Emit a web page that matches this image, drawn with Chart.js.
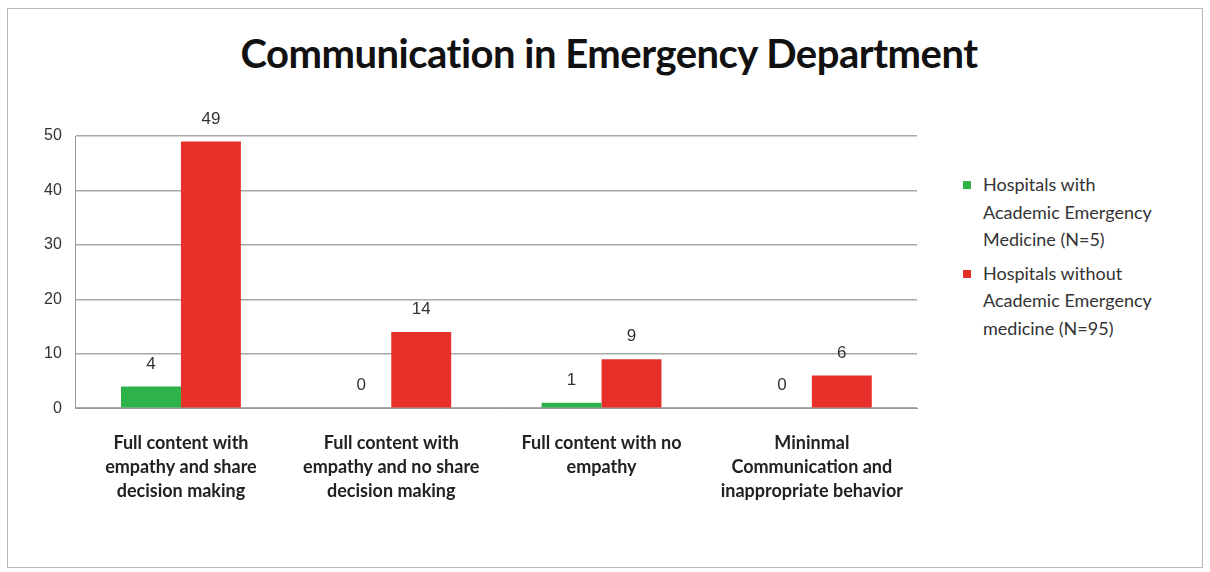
<!DOCTYPE html>
<html lang="en">
<head>
    <meta charset="UTF-8">
    <title>Communication in Emergency Department</title>
    <script src="https://cdn.jsdelivr.net/npm/chart.js@4.4.0/dist/chart.umd.js"></script>
    <style>
        body { margin: 0; background: #fff; font-family: Lato, sans-serif; }
        #frame { position: absolute; left: 7px; top: 8px; width: 1194px; height: 558px; border: 1px solid #b8b8b8; }
        #title { position: absolute; left: 0; width: 1218px; top: 29px; text-align: center; font-size: 40px; font-weight: bold; color: #111; letter-spacing: -0.5px; }
        #wrap { position: absolute; left: 20px; top: 105px; width: 910px; height: 425px; }
        #legend { position: absolute; left: 963px; top: 171px; font-size: 18px; color: #333; line-height: 27.5px; }
        .item { display: flex; margin-bottom: 6px; }
        .box { width: 8px; height: 8px; margin: 10px 12px 0 0; flex: none; }
    </style>
</head>
<body>
    <div id="frame"></div>
    <div id="title">Communication in Emergency Department</div>
    <div id="wrap"><canvas id="chart"></canvas></div>
    <div id="legend"></div>

    <script>
        // categories (multi-line labels)
        const categories = [
            ['Full content with', 'empathy and share', 'decision making'],
            ['Full content with', 'empathy and no share', 'decision making'],
            ['Full content with no', 'empathy'],
            ['Mininmal', 'Communication and', 'inappropriate behavior']
        ];
        const seriesNames = [
            ['Hospitals with', 'Academic Emergency', 'Medicine (N=5)'],
            ['Hospitals without', 'Academic Emergency', 'medicine (N=95)']
        ];
        const withAcademic = [4, 0, 1, 0];
        const withoutAcademic = [49, 14, 9, 6];
        const yTicks = [0, 10, 20, 30, 40, 50];
        const colors = ['#2db34a', '#e8302a'];

        // value labels above bars
        const valueLabels = {
            id: 'valueLabels',
            afterDatasetsDraw(chart) {
                const ctx = chart.ctx;
                ctx.save();
                ctx.font = '17px "Liberation Sans", Arial, sans-serif';
                ctx.fillStyle = '#333';
                ctx.textAlign = 'center';
                ctx.textBaseline = 'bottom';
                chart.data.datasets.forEach((ds, i) => {
                    chart.getDatasetMeta(i).data.forEach((bar, j) => {
                        ctx.fillText(ds.data[j], bar.x, bar.y - 14);
                    });
                });
                ctx.restore();
            }
        };

        new Chart(document.getElementById('chart'), {
            type: 'bar',
            data: {
                labels: categories,
                datasets: [
                    { label: seriesNames[0].join(' '), data: withAcademic, backgroundColor: colors[0] },
                    { label: seriesNames[1].join(' '), data: withoutAcademic, backgroundColor: colors[1] }
                ]
            },
            options: {
                responsive: true,
                maintainAspectRatio: false,
                animation: false,
                layout: { padding: { left: 10, top: 31, right: 13, bottom: 4 } },
                datasets: { bar: { categoryPercentage: 0.57, barPercentage: 1 } },
                scales: {
                    x: {
                        grid: { display: false, drawTicks: false },
                        border: { color: '#999' },
                        ticks: {
                            color: '#222',
                            padding: 23,
                            maxRotation: 0,
                            font: { family: 'Lato', size: 18, weight: 'bold', lineHeight: 1.33 }
                        }
                    },
                    y: {
                        min: 0,
                        max: 50,
                        afterBuildTicks: axis => { axis.ticks = yTicks.map(v => ({ value: v })); },
                        grid: { color: '#a8a8a8', drawTicks: false, lineWidth: 1.5 },
                        border: { color: '#999' },
                        ticks: {
                            color: '#333',
                            padding: 14,
                            font: { family: '"Liberation Sans", Arial', size: 16 }
                        }
                    }
                },
                plugins: {
                    legend: { display: false },
                    tooltip: { enabled: false }
                }
            },
            plugins: [valueLabels]
        });

        // legend built from series names
        const legend = document.getElementById('legend');
        seriesNames.forEach((lines, i) => {
            const item = document.createElement('div');
            item.className = 'item';
            item.innerHTML = '<span class="box" style="background:' + colors[i] + '"></span><span>' + lines.join('<br>') + '</span>';
            legend.appendChild(item);
        });
    </script>
</body>
</html>
